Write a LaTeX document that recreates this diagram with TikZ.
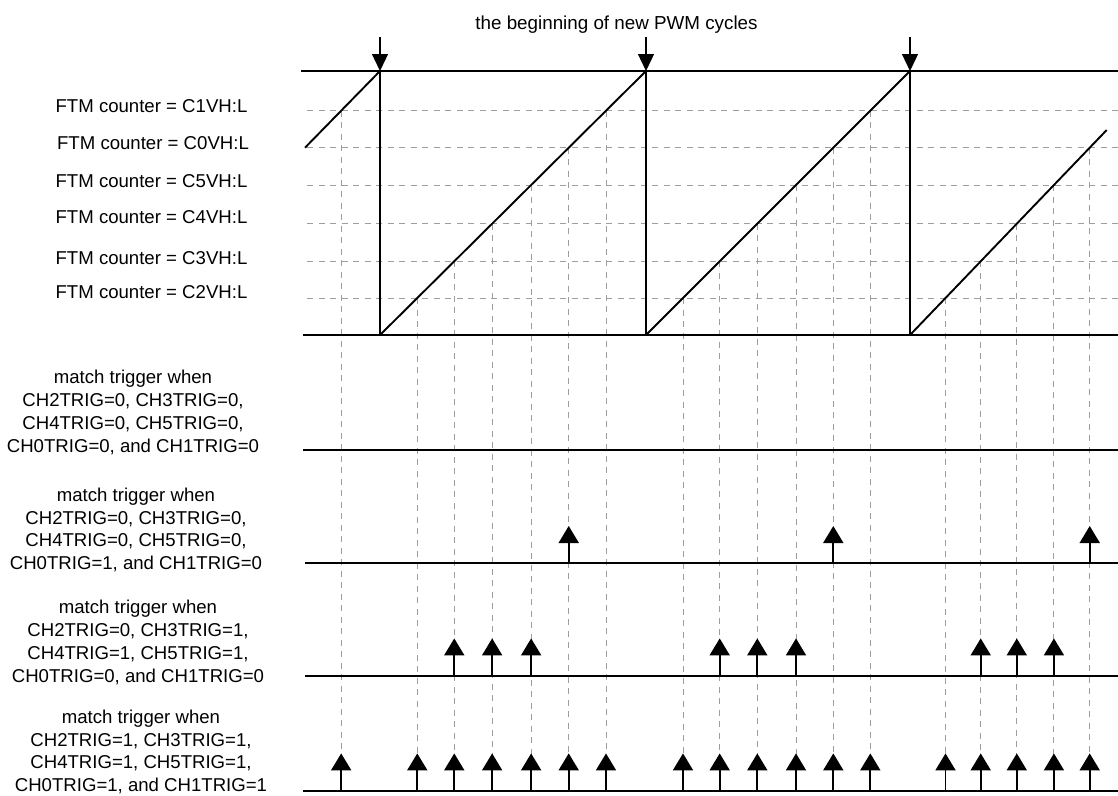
\documentclass[tikz,border=0pt]{standalone}
\usepackage{fontspec}
\setmainfont{Liberation Sans}
\usetikzlibrary{arrows.meta,calc}
\begin{document}
\begin{tikzpicture}[x=1pt,y=-1pt,
  frame/.style={line width=2pt,black},
  ramp/.style={line width=1.9pt,black,line join=bevel},
  grid/.style={black!38,line width=1pt,dash pattern=on 6pt off 5.5pt},
  trig/.style={line width=1.9pt,-{Triangle[width=20pt,length=17pt]}},
  cyc/.style={line width=1.3pt,-{Triangle[width=16pt,length=17pt]}},
  lbl/.style={font=\fontsize{18.6}{22.8}\selectfont,inner sep=0pt},
  multi/.style={lbl,align=center}]
\fill[white] (0,0) rectangle (1118,795);
\useasboundingbox (0,0) rectangle (1118,795);

% sawtooth corner points
\coordinate (A0) at (305,147.7); \coordinate (B0) at (380,71);
\coordinate (A1) at (380,335);   \coordinate (B1) at (646,71);
\coordinate (A2) at (646,335);   \coordinate (B2) at (910,71);
\coordinate (A3) at (910,335);   \coordinate (B3) at (1106.7,130);

% row base lines
\coordinate (L1s) at (303,450);   \coordinate (L1e) at (1118,450);
\coordinate (L2s) at (305,563.3); \coordinate (L2e) at (1118,563.3);
\coordinate (L3s) at (305,675.7); \coordinate (L3e) at (1118,675.7);
\coordinate (L4s) at (303,790.7); \coordinate (L4e) at (1118,790.7);

% intersections of the ramps with the compare levels
\coordinate (r0c1) at ($(A0)!{37/76.7}!(B0)$);
\foreach \n/\yy in {c1/110.7,c0/147.7,c5/185,c4/223.7,c3/261.3,c2/298}{
  \coordinate (r1\n) at ($(A1)!{(335-\yy)/264}!(B1)$);
  \coordinate (r2\n) at ($(A2)!{(335-\yy)/264}!(B2)$);
}
\foreach \n/\yy in {c0/147.7,c5/185,c4/223.7,c3/261.3,c2/298}{
  \coordinate (r3\n) at ($(A3)!{(335-\yy)/205}!(B3)$);
}

% horizontal dashed compare levels
\foreach \n/\yy in {c1/110.7,c0/147.7,c5/185,c4/223.7,c3/261.3,c2/298}{
  \coordinate (h\n s) at (307,\yy); \coordinate (h\n e) at (1118,\yy);
  \draw[grid] (h\n s) -- (h\n e);
}

% vertical dashed lines
\foreach \p in {r0c1,r1c2,r1c3,r1c4,r1c5,r1c0,r1c1,r2c2,r2c3,r2c4,r2c5,r2c0,r2c1,r3c2,r3c3,r3c4,r3c5,r3c0}{
  \draw[grid] (\p) -- (\p |- L4s);
}

% counter frame
\coordinate (Ts) at (301,71);  \coordinate (Te) at (1118,71);
\coordinate (Bs) at (303,335); \coordinate (Be) at (1118,335);
\draw[frame] (Ts) -- (Te);
\draw[frame] (Bs) -- (Be);
\draw[ramp] (A0) -- (B0) -- (A1) -- (B1) -- (A2) -- (B2) -- (A3) -- (B3);

% beginning of PWM cycle arrows
\coordinate (T0) at (380,37); \coordinate (T1) at (646,37); \coordinate (T2) at (910,37);
\draw[cyc] (T0) -- (B0);
\draw[cyc] (T1) -- (B1);
\draw[cyc] (T2) -- (B2);
\node[lbl,font=\fontsize{18.8}{22}\selectfont,anchor=base] (title) at (616.5,29.5) {the beginning of new PWM cycles};

% row lines
\draw[frame] (L1s) -- (L1e);
\draw[frame] (L2s) -- (L2e);
\draw[frame] (L3s) -- (L3e);
\draw[frame] (L4s) -- (L4e);

% trigger arrows
\foreach \p in {r1c0,r2c0,r3c0}{
  \draw[trig] (\p |- L2s) -- ++(0,-37.3);
}
\foreach \p in {r1c3,r1c4,r1c5,r2c3,r2c4,r2c5,r3c3,r3c4,r3c5}{
  \draw[trig] (\p |- L3s) -- ++(0,-37.3);
}
\foreach \p in {r0c1,r1c2,r1c3,r1c4,r1c5,r1c0,r1c1,r2c2,r2c3,r2c4,r2c5,r2c0,r2c1,r3c2,r3c3,r3c4,r3c5,r3c0}{
  \draw[trig] (\p |- L4s) -- ++(0,-37.3);
}

% compare level labels
\node[lbl,anchor=base] (lc1) at (151.5,112.3) {FTM counter = C1VH:L};
\node[lbl,anchor=base] (lc0) at (153,149.3) {FTM counter = C0VH:L};
\node[lbl,anchor=base] (lc5) at (151.5,187.7) {FTM counter = C5VH:L};
\node[lbl,anchor=base] (lc4) at (151.5,223.3) {FTM counter = C4VH:L};
\node[lbl,anchor=base] (lc3) at (151.5,264.3) {FTM counter = C3VH:L};
\node[lbl,anchor=base] (lc2) at (151.5,298.3) {FTM counter = C2VH:L};

% row labels
\node[multi] (m1) at (133,412.5) {match trigger when\\CH2TRIG=0, CH3TRIG=0,\\CH4TRIG=0, CH5TRIG=0,\\CH0TRIG=0, and CH1TRIG=0};
\node[multi] (m2) at (136,530) {match trigger when\\CH2TRIG=0, CH3TRIG=0,\\CH4TRIG=0, CH5TRIG=0,\\CH0TRIG=1, and CH1TRIG=0};
\node[multi] (m3) at (138,642.3) {match trigger when\\CH2TRIG=0, CH3TRIG=1,\\CH4TRIG=1, CH5TRIG=1,\\CH0TRIG=0, and CH1TRIG=0};
\node[multi] (m4) at (141,752) {match trigger when\\CH2TRIG=1, CH3TRIG=1,\\CH4TRIG=1, CH5TRIG=1,\\CH0TRIG=1, and CH1TRIG=1};
\end{tikzpicture}
\end{document}
